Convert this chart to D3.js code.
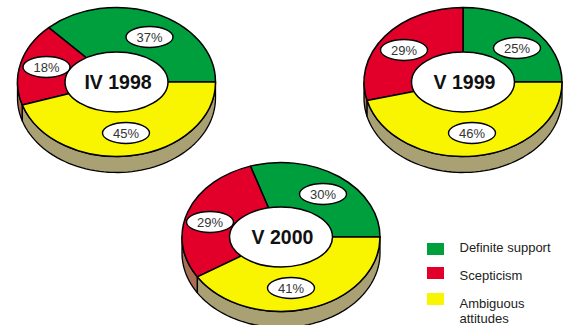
<!DOCTYPE html>
<html>
<head>
<meta charset="utf-8">
<script src="https://cdn.jsdelivr.net/npm/d3@7"></script>
<style>
  html, body { margin: 0; padding: 0; background: #fff; }
  svg { display: block; font-family: "Liberation Sans", Arial, sans-serif; }
</style>
</head>
<body>
<svg id="chart" width="564" height="325"></svg>
<script>
// Opinion shares per survey wave
const categories = ["Definite support", "Scepticism", "Ambiguous attitudes"];
const waves = ["IV 1998", "V 1999", "V 2000"];
const support = [37, 25, 30];
const scepticism = [18, 29, 29];
const ambiguous = [45, 46, 41];

// Layout
const fills = ["#009F3D", "#E2002A", "#F9F400"];
const sideFills = ["#A9A173", "#A86F55", "#A9A173"];
const centres = [[116.5, 82], [463, 82], [281, 237]];
const labelOffsets = [
  [[33, -45], [-70, -15], [9.5, 51]],
  [[54, -34], [-59, -32], [9, 51]],
  [[42, -43], [-71, -15], [10, 51]]
];
const rx = 99, ry = 74.5, depth = 16;
const holeRx = 51.5, holeRy = 30;

const svg = d3.select("#chart");
const pie = d3.pie().sort(null).value(d => d)
  .startAngle(Math.PI / 2).endAngle(-1.5 * Math.PI);
const wedge = d3.arc().innerRadius(0).outerRadius(rx);
const squash = ry / rx;

waves.forEach((wave, w) => {
  const values = [support[w], scepticism[w], ambiguous[w]];
  const slices = pie(values);
  const [cx, cy] = centres[w];
  const g = svg.append("g").attr("transform", `translate(${cx},${cy})`);

  // Rim below the front half of the disc
  const rimPoint = a => [rx * Math.sin(a), ry * -Math.cos(a)];
  const rimPath = (a0, a1) => {
    const p = d3.path();
    const steps = 60;
    for (let i = 0; i <= steps; i++) {
      const [x, y] = rimPoint(a0 + (a1 - a0) * i / steps);
      i ? p.lineTo(x, y) : p.moveTo(x, y);
    }
    for (let i = steps; i >= 0; i--) {
      const [x, y] = rimPoint(a0 + (a1 - a0) * i / steps);
      p.lineTo(x, y + depth);
    }
    p.closePath();
    return p.toString();
  };
  // The lower half of the ellipse spans angles -PI/2 (west) to -1.5PI (east)
  const west = -Math.PI / 2;
  slices.forEach((s, i) => {
    const from = Math.min(s.startAngle, west);
    const to = s.endAngle;
    if (to < from) {
      g.append("path").attr("d", rimPath(from, to))
        .attr("fill", sideFills[i]).attr("stroke", "#000").attr("stroke-width", 1.3)
        .attr("stroke-linejoin", "round");
    }
  });

  // Full wedges, drawn round and flattened into an ellipse
  const disc = g.append("g").attr("transform", `scale(1,${squash})`);
  disc.selectAll("path").data(slices).join("path")
    .attr("d", wedge)
    .attr("fill", (d, i) => fills[i])
    .attr("stroke", "#000")
    .attr("stroke-width", 1.5)
    .attr("stroke-linejoin", "round")
    .attr("vector-effect", "non-scaling-stroke");

  // Centre hole with the wave title
  g.append("ellipse").attr("rx", holeRx).attr("ry", holeRy)
    .attr("fill", "#fff").attr("stroke", "#000").attr("stroke-width", 1.5);
  g.append("text").text(wave)
    .attr("text-anchor", "middle").attr("x", 1.5).attr("y", 7)
    .attr("font-size", 19.5).attr("font-weight", "bold").attr("fill", "#111");

  // Percentage callouts
  slices.forEach((s, i) => {
    const [dx, dy] = labelOffsets[w][i];
    const lab = g.append("g").attr("transform", `translate(${dx},${dy})`);
    lab.append("ellipse").attr("rx", 23.5).attr("ry", 10.5)
      .attr("fill", "#fff").attr("stroke", "#000").attr("stroke-width", 1.4);
    lab.append("text").text(s.value + "%")
      .attr("text-anchor", "middle").attr("y", 4.5)
      .attr("font-size", 13).attr("fill", "#333");
  });
});

// Legend
const swatchTops = [243, 267, 293];
const legendLines = [["Definite support"], ["Scepticism"], ["Ambiguous", "attitudes"]];
const legendBaselines = [[252], [280], [308, 323]];
const legend = svg.append("g");
categories.forEach((name, i) => {
  legend.append("rect")
    .attr("x", 427).attr("y", swatchTops[i])
    .attr("width", 17).attr("height", 12)
    .attr("fill", fills[i]);
  legendLines[i].forEach((t, j) => {
    legend.append("text").text(t)
      .attr("x", 459.5).attr("y", legendBaselines[i][j])
      .attr("font-size", 13).attr("fill", "#222");
  });
});
</script>
</body>
</html>
